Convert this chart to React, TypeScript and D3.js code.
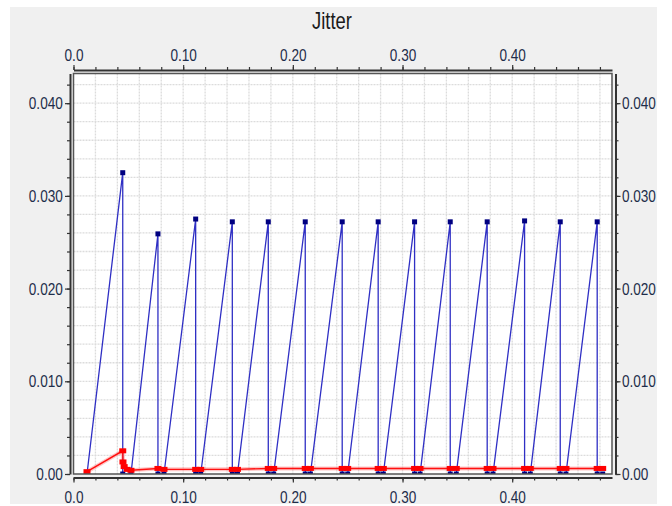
import React, { useEffect, useRef } from "react";
import * as d3 from "d3";

const W = 672;
const H = 506;

// Blue series (sawtooth): rise start x, peak x, peak value
const blueStartX = [0.0123, 0.0524, 0.0825, 0.116, 0.1495, 0.1825, 0.216, 0.25, 0.2825, 0.316, 0.349, 0.3825, 0.4165, 0.449];
const bluePeakX = [0.0449, 0.077, 0.1114, 0.1448, 0.1776, 0.2113, 0.245, 0.2778, 0.311, 0.3435, 0.3772, 0.4113, 0.4438, 0.4775];
const bluePeakY = [0.0325, 0.0259, 0.0275, 0.0272, 0.0272, 0.0272, 0.0272, 0.0272, 0.0272, 0.0272, 0.0272, 0.0273, 0.0272, 0.0272];
const blueEndX = 0.4825;

// Red series
const redX = [0.0123, 0.0449, 0.0451, 0.0462, 0.049, 0.0524, 0.077, 0.0825, 0.1114, 0.116, 0.1448, 0.1495, 0.1776, 0.1825, 0.2113, 0.216, 0.245, 0.25, 0.2778, 0.2825, 0.311, 0.316, 0.3435, 0.349, 0.3772, 0.3825, 0.4113, 0.4165, 0.4438, 0.449, 0.4775, 0.4825];
const redY = [0.00025, 0.0025, 0.0013, 0.0008, 0.0005, 0.0004, 0.0006, 0.0005, 0.0005, 0.0005, 0.0005, 0.0005, 0.0006, 0.0006, 0.0006, 0.0006, 0.0006, 0.0006, 0.0006, 0.0006, 0.0006, 0.0006, 0.0006, 0.0006, 0.0006, 0.0006, 0.0006, 0.0006, 0.0006, 0.0006, 0.0006, 0.0006];

const xMajor = [0, 0.1, 0.2, 0.3, 0.4];
const xMinor = d3.range(0, 25).map((i) => i * 0.02);
const yMajor = [0, 0.01, 0.02, 0.03, 0.04];
const yMinor = d3.range(0, 22).map((i) => i * 0.002);

const TITLE = "Jitter";

const FONT = "'Liberation Sans', Arial, sans-serif";

export default function App() {
  const ref = useRef<SVGSVGElement>(null);

  useEffect(() => {
    const svg = d3.select(ref.current);
    svg.selectAll("*").remove();

    const L = 73.5, R = 612, T = 73.5, B = 474;
    const x = d3.scaleLinear().domain([0, 0.491]).range([L, R]);
    const y = d3.scaleLinear().domain([0, 0.0432]).range([B, T]);

    svg.append("rect").attr("x", 0).attr("y", 0).attr("width", W).attr("height", H).attr("fill", "#ffffff");
    svg.append("rect").attr("x", 10).attr("y", 7).attr("width", 647).attr("height", 497).attr("fill", "#f0f0f0");
    svg.append("rect").attr("x", L).attr("y", T).attr("width", R - L).attr("height", B - T).attr("fill", "#ffffff");

    // grid
    const grid = svg.append("g");
    grid.selectAll("line.gx").data(xMinor.filter((v) => v > 0.001)).join("line")
      .attr("x1", (d) => x(d)).attr("x2", (d) => x(d)).attr("y1", T).attr("y2", B)
      .attr("stroke", "#dcdcdc").attr("stroke-width", 1.3).attr("stroke-dasharray", "2,1");
    grid.selectAll("line.gy").data(yMinor.filter((v) => v > 0.0001)).join("line")
      .attr("x1", L).attr("x2", R).attr("y1", (d) => y(d)).attr("y2", (d) => y(d))
      .attr("stroke", "#dcdcdc").attr("stroke-width", 1.3).attr("stroke-dasharray", "2,1");

    // clip
    svg.append("clipPath").attr("id", "plotclip").append("rect")
      .attr("x", L).attr("y", T).attr("width", R - L).attr("height", B - T);
    const plot = svg.append("g").attr("clip-path", "url(#plotclip)");

    // blue series
    const blue: [number, number][] = [];
    blueStartX.forEach((s, i) => {
      blue.push([s, 0]);
      blue.push([bluePeakX[i], bluePeakY[i]]);
      blue.push([bluePeakX[i], 0]);
    });
    blue.push([blueEndX, 0]);
    const line = d3.line<[number, number]>().x((d) => x(d[0])).y((d) => y(d[1]));
    plot.append("path").attr("d", line(blue)).attr("fill", "none")
      .attr("stroke", "#2f2fc4").attr("stroke-width", 1.3);
    plot.selectAll("rect.bm").data(blue).join("rect")
      .attr("x", (d) => x(d[0]) - 2.5).attr("y", (d) => y(d[1]) - 2.5)
      .attr("width", 5).attr("height", 5).attr("fill", "#000080");

    // red series
    const red: [number, number][] = redX.map((v, i) => [v, redY[i]]);
    plot.append("path").attr("d", line(red)).attr("fill", "none")
      .attr("stroke", "#ff8080").attr("stroke-opacity", 0.45).attr("stroke-width", 4);
    plot.append("path").attr("d", line(red)).attr("fill", "none")
      .attr("stroke", "#ff1010").attr("stroke-width", 1.4);
    plot.selectAll("rect.rm").data(red).join("rect")
      .attr("x", (d) => x(d[0]) - 3.5).attr("y", (d) => y(d[1]) - 2.5)
      .attr("width", 7).attr("height", 5).attr("fill", "#ff0000");

    // plot border
    svg.append("rect").attr("x", L).attr("y", T).attr("width", R - L).attr("height", B - T)
      .attr("fill", "none").attr("stroke", "#555").attr("stroke-width", 1.5);

    const fmtX = (d: number) => (d === 0 ? "0.0" : d.toFixed(2));
    const fmtY = (d: number) => (d === 0 ? "0.00" : d.toFixed(3));
    const off = 3.5;

    const styleAxis = (g: any) => {
      g.select(".domain").attr("stroke", "#333").attr("stroke-width", 2);
      g.selectAll(".tick line").attr("stroke", "#333").attr("stroke-width", 1.2);
      g.selectAll("text").attr("font-family", FONT).attr("font-size", 17).attr("fill", "#1e2d4a")
        .attr("transform", "scale(0.8,1)");
    };

    // bottom
    const gb = svg.append("g").attr("transform", `translate(0,${B + off})`);
    gb.call(d3.axisBottom(x).tickValues(xMinor).tickSize(3).tickSizeOuter(0).tickFormat(() => ""));
    const gb2 = svg.append("g").attr("transform", `translate(0,${B + off})`);
    gb2.call(d3.axisBottom(x).tickValues(xMajor).tickSize(5).tickSizeOuter(0).tickPadding(6).tickFormat(fmtX as any));
    gb2.select(".domain").remove();
    styleAxis(gb); styleAxis(gb2);
    gb2.selectAll("text").attr("dy", "0.85em");

    // top
    const gt = svg.append("g").attr("transform", `translate(0,${T - off})`);
    gt.call(d3.axisTop(x).tickValues(xMinor).tickSize(3).tickSizeOuter(0).tickFormat(() => ""));
    const gt2 = svg.append("g").attr("transform", `translate(0,${T - off})`);
    gt2.call(d3.axisTop(x).tickValues(xMajor).tickSize(5).tickSizeOuter(0).tickPadding(4).tickFormat(fmtX as any));
    gt2.select(".domain").remove();
    styleAxis(gt); styleAxis(gt2);

    // left
    const gl = svg.append("g").attr("transform", `translate(${L - off},0)`);
    gl.call(d3.axisLeft(y).tickValues(yMinor).tickSize(3).tickSizeOuter(0).tickFormat(() => ""));
    const gl2 = svg.append("g").attr("transform", `translate(${L - off},0)`);
    gl2.call(d3.axisLeft(y).tickValues(yMajor).tickSize(5).tickSizeOuter(0).tickPadding(4).tickFormat(fmtY as any));
    gl2.select(".domain").remove();
    styleAxis(gl); styleAxis(gl2);

    // right
    const gr = svg.append("g").attr("transform", `translate(${R + off},0)`);
    gr.call(d3.axisRight(y).tickValues(yMinor).tickSize(3).tickSizeOuter(0).tickFormat(() => ""));
    const gr2 = svg.append("g").attr("transform", `translate(${R + off},0)`);
    gr2.call(d3.axisRight(y).tickValues(yMajor).tickSize(5).tickSizeOuter(0).tickPadding(3).tickFormat(fmtY as any));
    gr2.select(".domain").remove();
    styleAxis(gr); styleAxis(gr2);

    // title
    svg.append("g").attr("transform", "translate(332,29)")
      .append("text").attr("text-anchor", "middle").attr("transform", "scale(0.8,1)")
      .attr("font-family", FONT).attr("font-size", 23).attr("fill", "#1a1a1a").text(TITLE);
  }, []);

  return (
    <svg ref={ref} width={W} height={H} style={{ position: "absolute", left: 0, top: 0, display: "block" }} />
  );
}
